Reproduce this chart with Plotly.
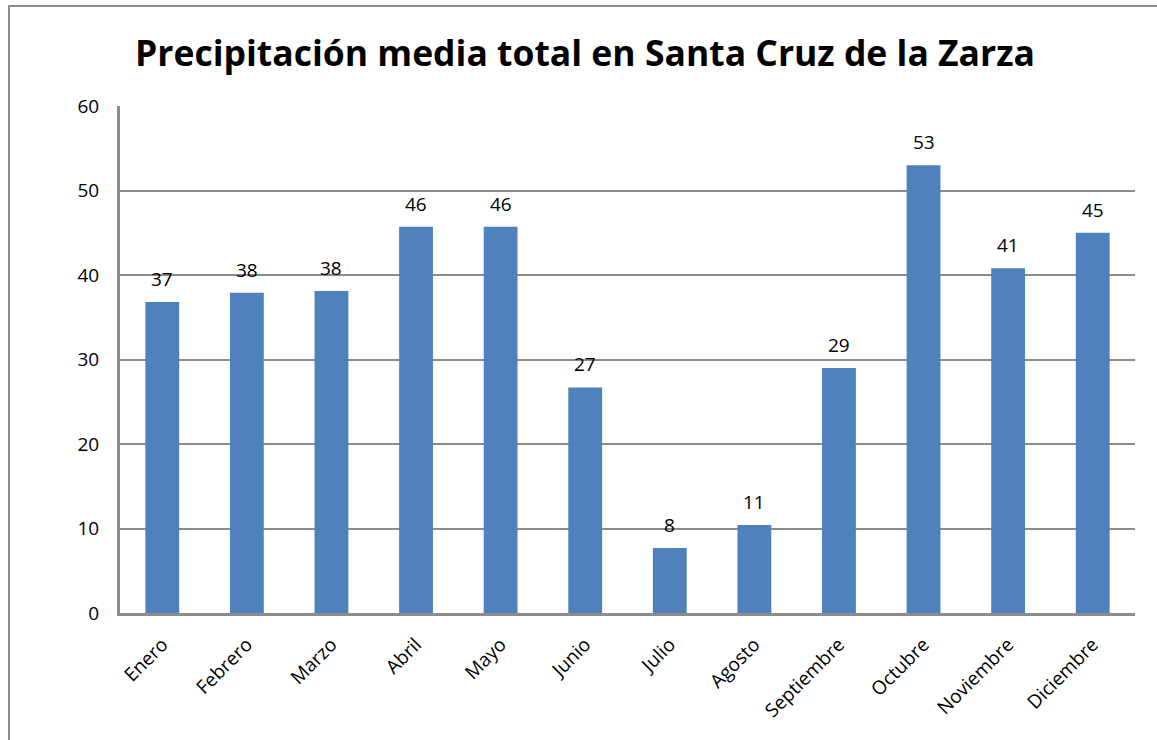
import plotly.graph_objects as go

months = ["Enero", "Febrero", "Marzo", "Abril", "Mayo", "Junio", "Julio",
          "Agosto", "Septiembre", "Octubre", "Noviembre", "Diciembre"]
precip = [36.8, 37.9, 38.1, 45.7, 45.7, 26.7, 7.7, 10.4, 29.0, 53.0, 40.8, 45.0]
labels = ["37", "38", "38", "46", "46", "27", "8", "11", "29", "53", "41", "45"]
y_ticks = [0, 10, 20, 30, 40, 50, 60]

W, H = 1157, 740
L, R, T, B = 120, 22, 106, 127
pw = W - L - R
ph = H - T - B

fig = go.Figure(go.Bar(
    x=months, y=precip,
    marker=dict(color="#4F81BD", line=dict(width=0)),
))

for m, v, t in zip(months, precip, labels):
    fig.add_annotation(x=m, y=v, text=t, showarrow=False,
                       yanchor="bottom", yshift=8,
                       font=dict(family="Open Sans", size=19, color="#000000"))

# outer chart border
fig.add_shape(type="rect", xref="paper", yref="paper",
              x0=(9 - L) / pw, x1=(W + 10 - L) / pw,
              y0=-(B + 10) / ph, y1=(H - B - 6) / ph,
              line=dict(color="#8C8C8C", width=2), fillcolor="rgba(0,0,0,0)",
              layer="below")

fig.update_layout(
    width=W, height=H,
    margin=dict(l=L, r=R, t=T, b=B),
    paper_bgcolor="white", plot_bgcolor="white",
    title=dict(text="<b>Precipitación media total en Santa Cruz de la Zarza</b>",
               x=585 / W, xanchor="center", y=1 - 54 / H, yanchor="middle",
               font=dict(family="Open Sans", size=35.5, color="#000000")),
    bargap=0.6,
    showlegend=False,
    font=dict(family="Open Sans", color="#000000"),
)
fig.update_yaxes(range=[0, 60], tickvals=y_ticks, showgrid=True,
                 gridcolor="#8C8C8C", gridwidth=2,
                 showline=True, linecolor="#8C8C8C", linewidth=3,
                 zeroline=False, ticks="outside", ticklen=14, tickcolor="rgba(0,0,0,0)",
                 tickfont=dict(size=19, family="Open Sans"))
fig.update_xaxes(showline=True, linecolor="#8C8C8C", linewidth=3,
                 tickangle=-45, ticks="outside", ticklen=10, tickcolor="rgba(0,0,0,0)",
                 tickfont=dict(size=19, family="Open Sans"))

fig.write_html("out.html", config={"displayModeBar": False},
               post_script="document.body.style.margin='0';document.body.style.overflow='hidden';")
